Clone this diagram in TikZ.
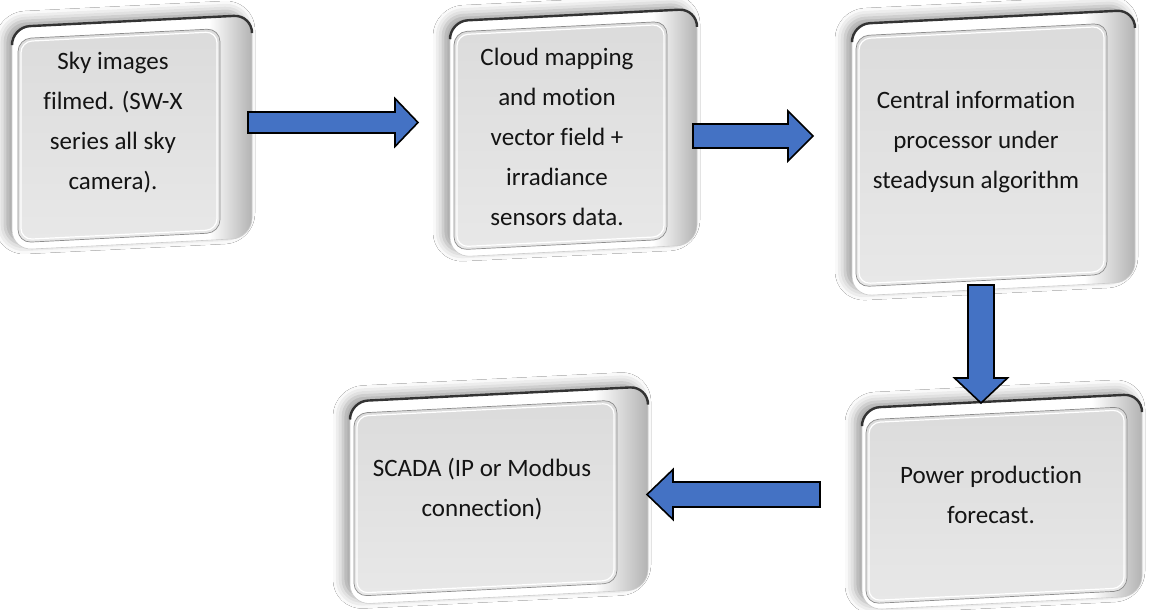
\documentclass[tikz,border=0pt]{standalone}
\usepackage{fontspec}
\setmainfont{Carlito}[Ligatures={NoCommon,NoContextual}]
\usetikzlibrary{calc,shadows.blur}

\definecolor{arrowblue}{HTML}{4472C4}
\definecolor{inktext}{HTML}{141414}

% bevelled rim: white body that darkens towards the right-hand edge
\pgfdeclarehorizontalshading{bevelshade}{100bp}{%
  color(0bp)=(white); color(25bp)=(white); color(66bp)=(white);
  color(75bp)=(black!30); color(100bp)=(black!30)}

\tikzset{
  rim/.style={shading=bevelshade, draw=black!20, line width=0.6pt,
    rounded corners=20pt,
    blur shadow={shadow xshift=-7pt, shadow yshift=5pt,
      shadow blur radius=10pt, shadow opacity=38}},
  rimtop/.style={draw=black!80, line width=2.4pt, rounded corners=18pt,
    line cap=round},
  face/.style={top color=black!14, bottom color=black!9,
    draw=black!45, line width=0.7pt, rounded corners=13pt},
  facehl/.style={draw=white, line width=1.2pt, rounded corners=11pt},
  label/.style={font=\fontsize{25}{40}\selectfont, align=center,
    text=inktext, inner sep=0pt},
  blockarrow/.style={fill=arrowblue, draw=black, line width=1.6pt,
    line join=miter},
}

% raised panel, tipped slightly towards the viewer:
% outer rim (x1,y1)-(x2,y2), inner face (x1,y1)-(x2,y2)
\newcommand\panel[8]{%
  \begin{scope}[shift={({(#1+#3)/2},{(#2+#4)/2})}, yslant=0.05]
    \pgfmathsetmacro\cx{(#1+#3)/2}\pgfmathsetmacro\cy{(#2+#4)/2}
    \path[rim] ({#1-\cx},{#2-\cy}) rectangle ({#3-\cx},{#4-\cy});
    \draw[rimtop] ({#1-\cx},{#2-\cy+15}) -- ({#1-\cx},{#2-\cy})
      -- ({#3-\cx},{#2-\cy}) -- ({#3-\cx},{#2-\cy+15});
    \path[face] ({#5-\cx},{#6-\cy}) rectangle ({#7-\cx},{#8-\cy});
    \draw[facehl] ({#5-\cx+3},{#6-\cy+3}) rectangle ({#7-\cx-3},{#8-\cy-3});
  \end{scope}
}

% block arrows: tail, tip, shaft half width, head half width, signed head length
\newcommand\harrow[5]{%
  \draw[blockarrow] ($(#1)+(0,-#3)$) -- ($(#2)+(#5,-#3)$) -- ($(#2)+(#5,-#4)$)
    -- (#2) -- ($(#2)+(#5,#4)$) -- ($(#2)+(#5,#3)$) -- ($(#1)+(0,#3)$) -- cycle;
}
\newcommand\varrow[5]{%
  \draw[blockarrow] ($(#1)+(-#3,0)$) -- ($(#2)+(-#3,#5)$) -- ($(#2)+(-#4,#5)$)
    -- (#2) -- ($(#2)+(#4,#5)$) -- ($(#2)+(#3,#5)$) -- ($(#1)+(#3,0)$) -- cycle;
}

\begin{document}
\begin{tikzpicture}[x=1pt, y=-1pt]
  \useasboundingbox (0,0) rectangle (1157,610);
  \fill[white] (0,0) rectangle (1157,610);

  % panels
  \panel{12}{21}{252}{244}{18}{33}{220}{237}
  \panel{450}{15}{697}{251}{454}{26}{667}{244}
  \panel{852}{17}{1135}{289}{856}{29}{1107}{280}
  \panel{350}{394}{648}{597}{354}{406}{617}{589}
  \panel{862}{401}{1142}{603}{866}{413}{1127}{597}

  % panel texts
  \node[label] (sky)  at (113,123) {Sky images\\filmed. (SW-X\\series all sky\\camera).};
  \node[label] (cloud) at (557,137) {Cloud mapping\\and motion\\vector field +\\irradiance\\sensors data.};
  \node[label] (cpu)  at (976,142) {Central information\\processor under\\steadysun algorithm};
  \node[label] (power) at (991,495) {Power production\\forecast.};
  \node[label] (scada) at (482,489) {SCADA (IP or Modbus\\connection)};

  % arrow ends
  \coordinate (a1s) at (248,122.5);  \coordinate (a1e) at (418,122.5);
  \coordinate (a2s) at (693,136);    \coordinate (a2e) at (813,136);
  \coordinate (a3s) at (981,285);    \coordinate (a3e) at (981,403);
  \coordinate (a4s) at (820,494.5);  \coordinate (a4e) at (647,494.5);

  \harrow{a1s}{a1e}{10.5}{24}{-23}
  \harrow{a2s}{a2e}{12}{25}{-25}
  \varrow{a3s}{a3e}{13}{26.5}{-25}
  \harrow{a4s}{a4e}{12.5}{25}{26}
\end{tikzpicture}
\end{document}
